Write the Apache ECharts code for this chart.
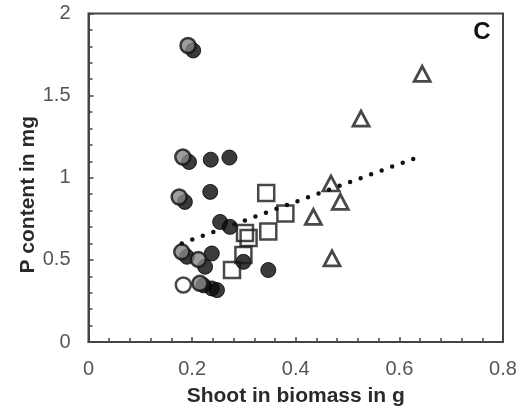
<!DOCTYPE html>
<html>
<head>
<meta charset="utf-8">
<script src="https://cdn.jsdelivr.net/npm/echarts@6/dist/echarts.min.js"></script>
<style>html,body{margin:0;padding:0;background:#fff}#c{width:525px;height:412px}</style>
</head>
<body>
<div id="c"></div>
<script>
// Data (x: shoot biomass g, y: P content mg)
var blackX = [0.202, 0.194, 0.236, 0.272, 0.186, 0.235, 0.254, 0.273, 0.190, 0.238, 0.225, 0.299, 0.347, 0.238, 0.248, 0.222];
var blackY = [1.775, 1.096, 1.110, 1.123, 0.853, 0.914, 0.731, 0.701, 0.519, 0.539, 0.458, 0.488, 0.438, 0.326, 0.316, 0.345];
var greyX = [0.192, 0.182, 0.175, 0.180, 0.212, 0.215];
var greyY = [1.805, 1.126, 0.883, 0.549, 0.503, 0.357];
var whiteX = [0.183];
var whiteY = [0.347];
var squareX = [0.343, 0.380, 0.347, 0.302, 0.309, 0.299, 0.277];
var squareY = [0.907, 0.782, 0.672, 0.663, 0.633, 0.529, 0.438];
var triX = [0.644, 0.526, 0.468, 0.486, 0.434, 0.470];
var triY = [1.633, 1.360, 0.965, 0.853, 0.762, 0.509];
var trendX = [0.180, 0.634];
var trendY = [0.600, 1.123];
var xTicks = [0, 0.2, 0.4, 0.6, 0.8];
var yTicks = [0, 0.5, 1, 1.5, 2];
var panelLabel = 'C';

function zip(a, b) { return a.map(function (v, i) { return [v, b[i]]; }); }

var chart = echarts.init(document.getElementById('c'), null, {renderer: 'canvas'});
var font = 'Liberation Sans, Arial, sans-serif';
chart.setOption({
  animation: false,
  backgroundColor: '#fff',
  grid: {left: 88.5, top: 13.5, right: 22, bottom: 70, show: true, borderColor: '#444', borderWidth: 2},
  xAxis: {
    type: 'value', min: xTicks[0], max: xTicks[xTicks.length - 1], interval: 0.2,
    name: 'Shoot in biomass in g', nameLocation: 'middle', nameGap: 44, nameMoveOverlap: false,
    nameTextStyle: {fontFamily: font, fontWeight: 'bold', fontSize: 21, color: '#2a2a2a'},
    axisLine: {lineStyle: {color: '#444', width: 2}},
    axisTick: {inside: true, length: 5, lineStyle: {color: '#444', width: 1.5}},
    minorTick: {show: true, splitNumber: 5, length: 4, lineStyle: {color: '#444', width: 1.5}},
    axisLabel: {fontFamily: font, fontSize: 20, color: '#555', margin: 17},
    splitLine: {show: false}
  },
  yAxis: {
    type: 'value', min: yTicks[0], max: yTicks[yTicks.length - 1], interval: 0.5,
    name: 'P content in mg', nameLocation: 'middle', nameGap: 50, nameMoveOverlap: false,
    nameTextStyle: {fontFamily: font, fontWeight: 'bold', fontSize: 21, color: '#2a2a2a', padding: [0, 34, 0, 0]},
    axisLine: {lineStyle: {color: '#444', width: 2}},
    axisTick: {inside: true, length: 5, lineStyle: {color: '#444', width: 1.5}},
    minorTick: {show: true, splitNumber: 5, length: 4, lineStyle: {color: '#444', width: 1.5}},
    axisLabel: {fontFamily: font, fontSize: 20, color: '#555', margin: 18},
    splitLine: {show: false}
  },
  graphic: [{type: 'text', x: 482, y: 32, style: {text: panelLabel, font: 'bold 24px ' + font, fill: '#111', align: 'center', verticalAlign: 'middle'}}],
  series: [
    {type: 'scatter', data: zip(blackX, blackY), symbol: 'circle', symbolSize: 15,
     itemStyle: {color: '#0a0a0a', borderColor: '#000', borderWidth: 1}, z: 2},
    {type: 'scatter', data: zip(greyX, greyY), symbol: 'circle', symbolSize: 15,
     itemStyle: {color: '#858585', borderColor: '#111', borderWidth: 2.5}, z: 3},
    {type: 'scatter', data: zip(whiteX, whiteY), symbol: 'circle', symbolSize: 15,
     itemStyle: {color: '#fff', borderColor: '#1a1a1a', borderWidth: 2.5}, z: 3},
    {type: 'scatter', data: zip(squareX, squareY), symbol: 'rect', symbolSize: 16,
     itemStyle: {color: 'rgba(255,255,255,0)', borderColor: '#1a1a1a', borderWidth: 2.5}, z: 4},
    {type: 'scatter', data: zip(triX, triY), symbol: 'triangle', symbolSize: [16, 15],
     itemStyle: {color: '#fff', borderColor: '#1a1a1a', borderWidth: 2.8}, z: 4},
    {type: 'line', data: zip(trendX, trendY), symbol: 'none', silent: true,
     lineStyle: {color: '#111', width: 4.5, type: [0, 11.2], cap: 'round'}, z: 5}
  ]
});
</script>
</body>
</html>
